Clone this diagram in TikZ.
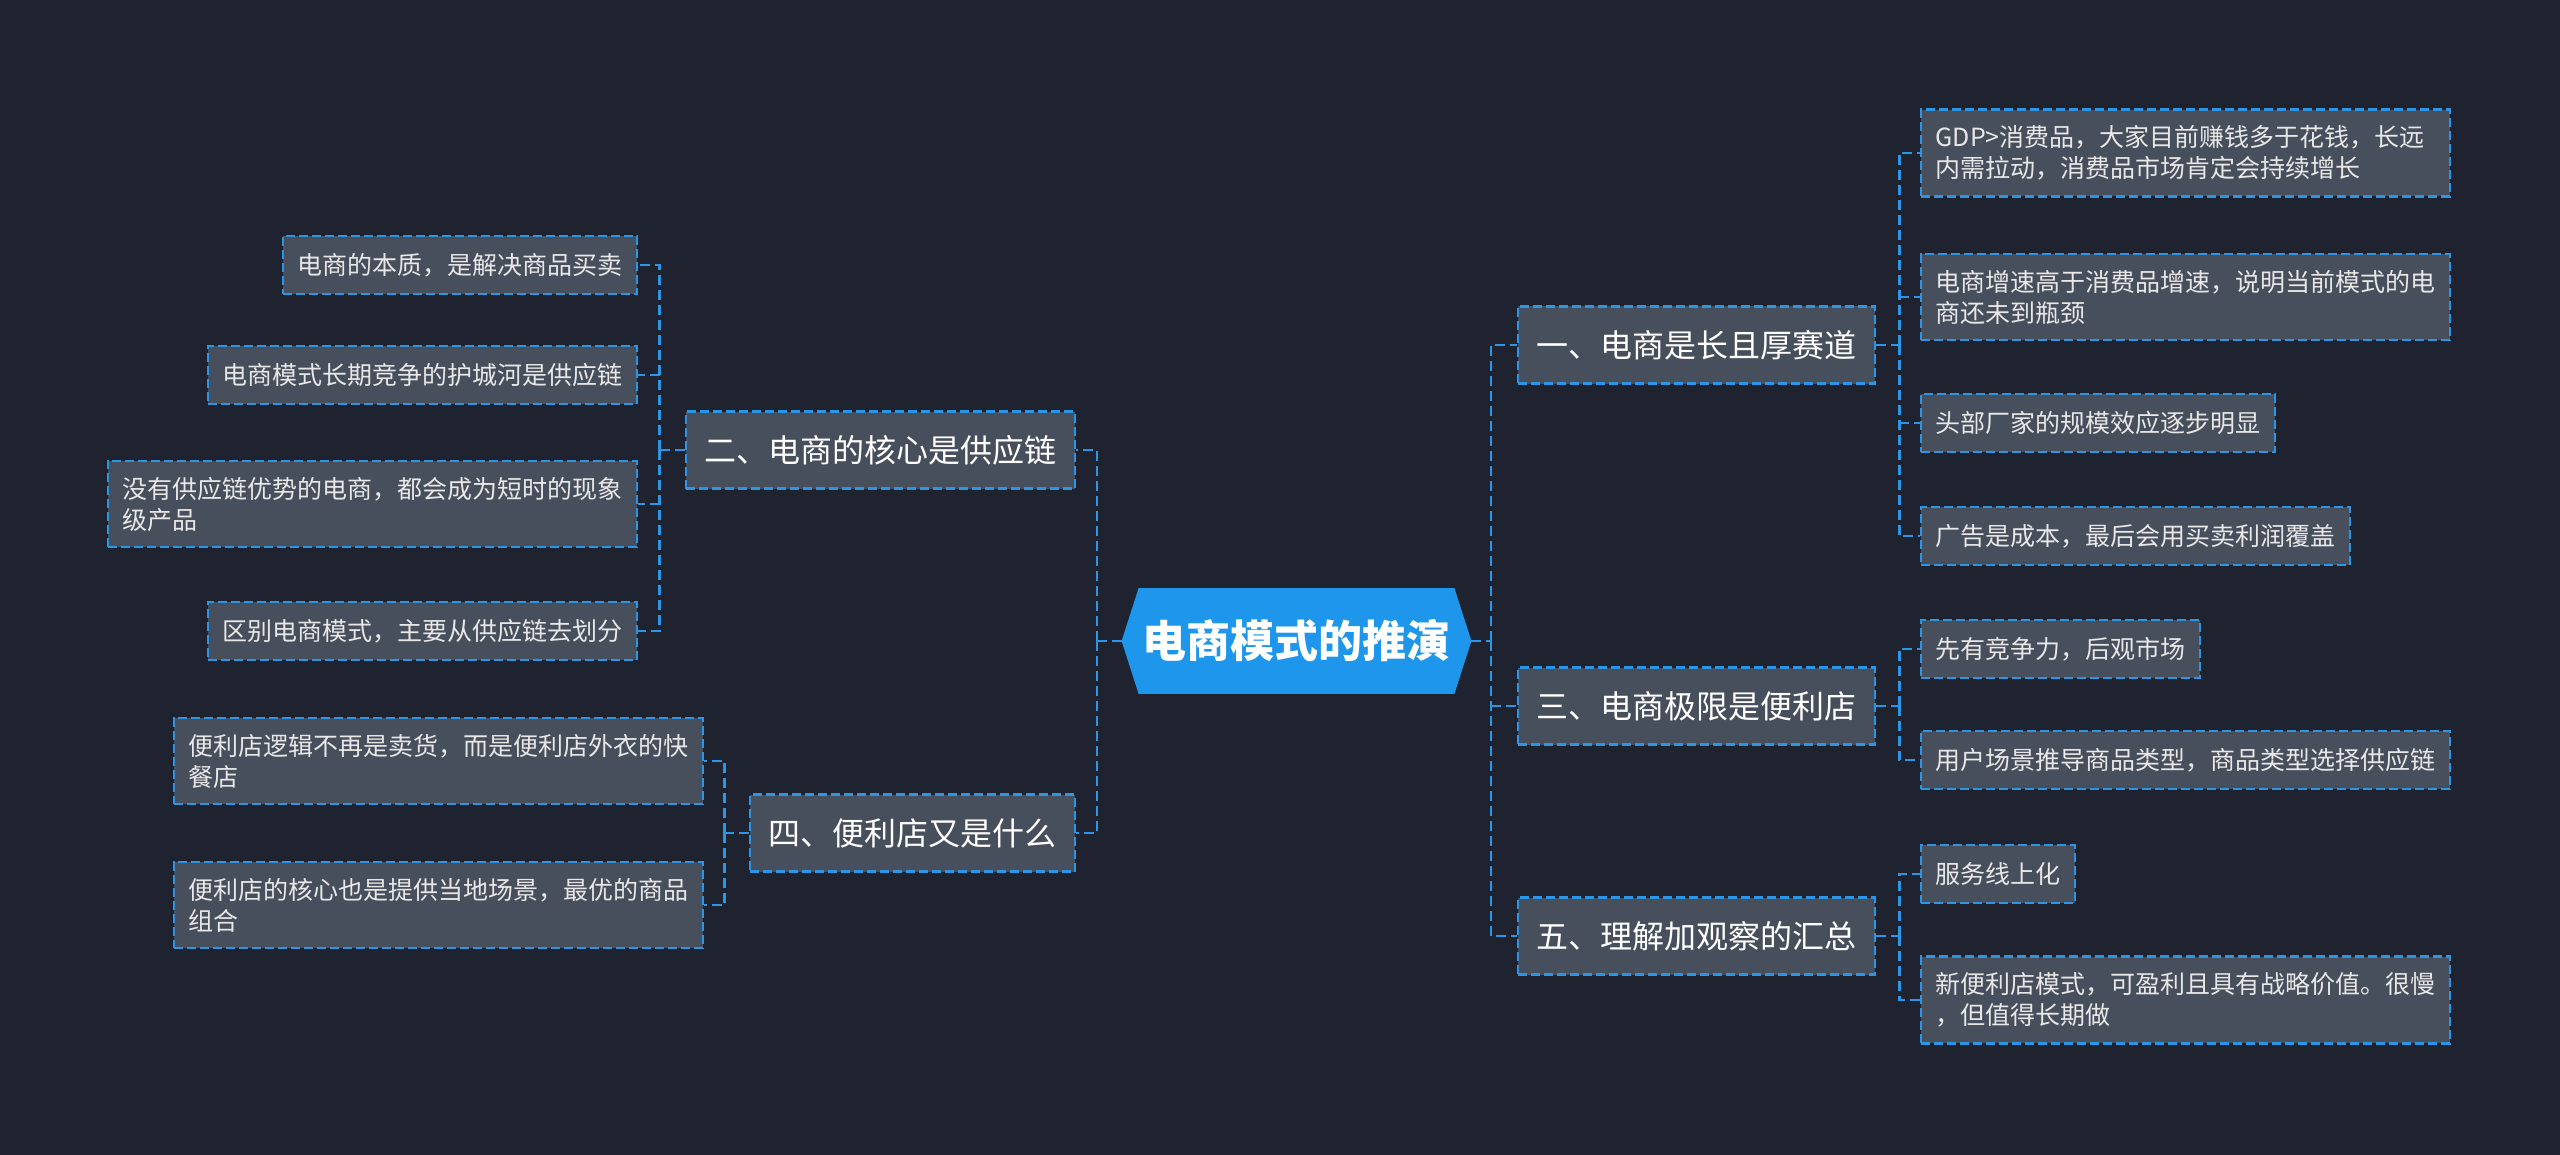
\documentclass[tikz,border=0pt]{standalone}
\usepackage{fontspec}
\setmainfont{Noto Sans CJK SC}
\usetikzlibrary{calc,backgrounds}
\definecolor{bgdark}{HTML}{1F2330}
\definecolor{boxgray}{HTML}{474E5C}
\definecolor{linkblue}{HTML}{2B96E6}
\definecolor{rootblue}{HTML}{1E96EB}
\definecolor{leaftext}{HTML}{E8E8E8}

\begin{document}
\begin{tikzpicture}[
    x=0.5pt, y=-0.5pt,
    box/.style={draw=linkblue, dash pattern=on 4.5pt off 2pt, line width=1.2pt, fill=boxgray, text=leaftext},
    leaf/.style={box, font=\fontsize{12.5}{15.5}\selectfont, inner xsep=7.25pt, inner ysep=8pt, minimum height=29pt},
    longleaf/.style={leaf, text width=250pt, align=left},
    topic/.style={box, font=\fontsize{16}{19}\selectfont, inner xsep=9.25pt, minimum height=38.5pt, text=white},
    rootnode/.style={font=\fontsize{22}{26}\selectfont\bfseries, text=white, minimum width=174.5pt, minimum height=52.5pt},
    link/.style={draw=linkblue, line width=1.4pt, dash pattern=on 5pt off 2.5pt}
]
\useasboundingbox (0,0) rectangle (2560,1155);

% centre
\node[rootnode] (root) at (1296.5,641) {电商模式的推演};

% topics
\node[topic, anchor=west] (t1) at (1517,345) {一、电商是长且厚赛道};
\node[topic, anchor=west] (t3) at (1517,706) {三、电商极限是便利店};
\node[topic, anchor=west] (t5) at (1517,936) {五、理解加观察的汇总};
\node[topic, anchor=east] (t2) at (1076,450) {二、电商的核心是供应链};
\node[topic, anchor=east] (t4) at (1076,833) {四、便利店又是什么};

% right leaves
\node[longleaf, anchor=west] (a1) at (1920,153) {GDP>消费品，大家目前赚钱多于花钱，长远\\内需拉动，消费品市场肯定会持续增长};
\node[longleaf, anchor=west] (a2) at (1920,297) {电商增速高于消费品增速，说明当前模式的电\\商还未到瓶颈};
\node[leaf, anchor=west] (a3) at (1920,423) {头部厂家的规模效应逐步明显};
\node[leaf, anchor=west] (a4) at (1920,536) {广告是成本，最后会用买卖利润覆盖};
\node[leaf, anchor=west] (c1) at (1920,649) {先有竞争力，后观市场};
\node[leaf, anchor=west] (c2) at (1920,760) {用户场景推导商品类型，商品类型选择供应链};
\node[leaf, anchor=west] (e1) at (1920,874) {服务线上化};
\node[longleaf, anchor=west] (e2) at (1920,1000) {新便利店模式，可盈利且具有战略价值。很慢\\，但值得长期做};

% left leaves
\node[leaf, anchor=east] (b1) at (638,265) {电商的本质，是解决商品买卖};
\node[leaf, anchor=east] (b2) at (638,375) {电商模式长期竞争的护城河是供应链};
\node[longleaf, anchor=east] (b3) at (638,504) {没有供应链优势的电商，都会成为短时的现象\\级产品};
\node[leaf, anchor=east] (b4) at (638,631) {区别电商模式，主要从供应链去划分};
\node[longleaf, anchor=east] (d1) at (704,761) {便利店逻辑不再是卖货，而是便利店外衣的快\\餐店};
\node[longleaf, anchor=east] (d2) at (704,905) {便利店的核心也是提供当地场景，最优的商品\\组合};

% junctions
\coordinate (rj) at (1491,641);
\coordinate (lj) at (1097,641);
\coordinate (j1) at ($(t1.east)+(23,0)$);
\coordinate (j3) at ($(t3.east)+(23,0)$);
\coordinate (j5) at ($(t5.east)+(23,0)$);
\coordinate (j2) at ($(t2.west)+(-25,0)$);
\coordinate (j4) at ($(t4.west)+(-24,0)$);

\draw[link] (root.east) -- (rj);
\draw[link] (rj) |- (t1.west);
\draw[link] (rj) |- (t5.west);
\draw[link] (rj |- t3.west) -- (t3.west);
\draw[link] (root.west) -- (lj);
\draw[link] (lj) |- (t2.east);
\draw[link] (lj) |- (t4.east);

\draw[link] (t1.east) -- (j1);
\draw[link] (j1) |- (a1.west);
\draw[link] (j1) |- (a4.west);
\draw[link] (j1 |- a2.west) -- (a2.west);
\draw[link] (j1 |- a3.west) -- (a3.west);

\draw[link] (t3.east) -- (j3);
\draw[link] (j3) |- (c1.west);
\draw[link] (j3) |- (c2.west);

\draw[link] (t5.east) -- (j5);
\draw[link] (j5) |- (e1.west);
\draw[link] (j5) |- (e2.west);

\draw[link] (t2.west) -- (j2);
\draw[link] (j2) |- (b1.east);
\draw[link] (j2) |- (b4.east);
\draw[link] (j2 |- b2.east) -- (b2.east);
\draw[link] (j2 |- b3.east) -- (b3.east);

\draw[link] (t4.west) -- (j4);
\draw[link] (j4) |- (d1.east);
\draw[link] (j4) |- (d2.east);

\begin{scope}[on background layer]
\fill[bgdark] (0,0) rectangle (2560,1155);
\fill[rootblue] ($(root.north west)+(17,0)$) -- ($(root.north east)+(-17,0)$) -- (root.east)
    -- ($(root.south east)+(-17,0)$) -- ($(root.south west)+(17,0)$) -- (root.west) -- cycle;
\end{scope}
\end{tikzpicture}
\end{document}
